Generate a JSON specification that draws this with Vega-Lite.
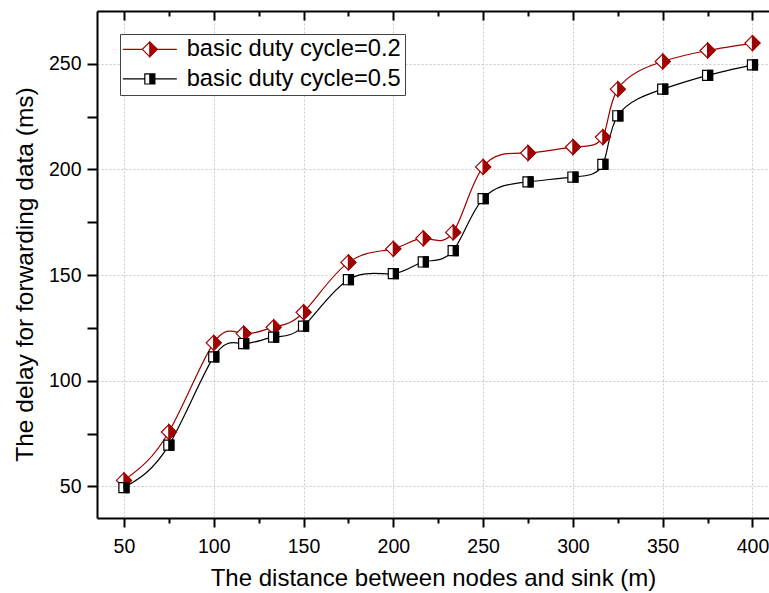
{
  "$schema": "https://vega.github.io/schema/vega-lite/v6.json",
  "width": 672,
  "height": 507,
  "autosize": {"type": "none"},
  "padding": {"left": 97, "top": 11, "right": 0, "bottom": 75},
  "background": "white",
  "config": {"view": {"stroke": null}, "font": "Liberation Sans"},
  "resolve": {"axis": {"x": "independent", "y": "independent"}},
  "data": {"values": [
    {"x": 50, "y": 52.8, "s": "basic duty cycle=0.2"},
    {"x": 75, "y": 75.7, "s": "basic duty cycle=0.2"},
    {"x": 100, "y": 117.9, "s": "basic duty cycle=0.2"},
    {"x": 116.67, "y": 122.3, "s": "basic duty cycle=0.2"},
    {"x": 133.33, "y": 125.3, "s": "basic duty cycle=0.2"},
    {"x": 150, "y": 132.4, "s": "basic duty cycle=0.2"},
    {"x": 175, "y": 156.0, "s": "basic duty cycle=0.2"},
    {"x": 200, "y": 162.4, "s": "basic duty cycle=0.2"},
    {"x": 216.67, "y": 167.4, "s": "basic duty cycle=0.2"},
    {"x": 233.33, "y": 170.2, "s": "basic duty cycle=0.2"},
    {"x": 250, "y": 201.2, "s": "basic duty cycle=0.2"},
    {"x": 275, "y": 207.8, "s": "basic duty cycle=0.2"},
    {"x": 300, "y": 210.6, "s": "basic duty cycle=0.2"},
    {"x": 316.67, "y": 215.3, "s": "basic duty cycle=0.2"},
    {"x": 325, "y": 238.0, "s": "basic duty cycle=0.2"},
    {"x": 350, "y": 251.1, "s": "basic duty cycle=0.2"},
    {"x": 375, "y": 256.3, "s": "basic duty cycle=0.2"},
    {"x": 400, "y": 259.8, "s": "basic duty cycle=0.2"},
    {"x": 50, "y": 49.4, "s": "basic duty cycle=0.5"},
    {"x": 75, "y": 69.5, "s": "basic duty cycle=0.5"},
    {"x": 100, "y": 111.3, "s": "basic duty cycle=0.5"},
    {"x": 116.67, "y": 117.6, "s": "basic duty cycle=0.5"},
    {"x": 133.33, "y": 120.6, "s": "basic duty cycle=0.5"},
    {"x": 150, "y": 125.8, "s": "basic duty cycle=0.5"},
    {"x": 175, "y": 147.8, "s": "basic duty cycle=0.5"},
    {"x": 200, "y": 150.7, "s": "basic duty cycle=0.5"},
    {"x": 216.67, "y": 156.2, "s": "basic duty cycle=0.5"},
    {"x": 233.33, "y": 161.6, "s": "basic duty cycle=0.5"},
    {"x": 250, "y": 186.2, "s": "basic duty cycle=0.5"},
    {"x": 275, "y": 194.1, "s": "basic duty cycle=0.5"},
    {"x": 300, "y": 196.4, "s": "basic duty cycle=0.5"},
    {"x": 316.67, "y": 202.4, "s": "basic duty cycle=0.5"},
    {"x": 325, "y": 225.4, "s": "basic duty cycle=0.5"},
    {"x": 350, "y": 238.0, "s": "basic duty cycle=0.5"},
    {"x": 375, "y": 244.5, "s": "basic duty cycle=0.5"},
    {"x": 400, "y": 249.5, "s": "basic duty cycle=0.5"}
  ]},
  "layer": [
    {
      "mark": {"type": "line", "interpolate": "natural", "strokeWidth": 1.2},
      "encoding": {
        "x": {"field": "x", "type": "quantitative",
          "scale": {"domain": [35, 409.2], "nice": false, "zero": false},
          "axis": {
            "orient": "bottom",
            "title": "The distance between nodes and sink (m)",
            "values": [50, 100, 150, 200, 250, 300, 350, 400],
            "tickSize": 9, "tickWidth": 2, "tickColor": "black",
            "domainColor": "black", "domainWidth": 2,
            "labelFont": "Liberation Sans", "labelFontSize": 19.5, "labelColor": "black", "labelPadding": 10,
            "labelFlush": false, "labelOverlap": false,
            "titleFont": "Liberation Sans", "titleFontSize": 24, "titleFontWeight": "normal", "titleColor": "black", "titlePadding": 11,
            "grid": true, "gridColor": "#c8c8c8", "gridDash": [2, 2], "gridWidth": 1
          }},
        "y": {"field": "y", "type": "quantitative",
          "scale": {"domain": [35, 275], "nice": false, "zero": false},
          "axis": {
            "orient": "left",
            "title": "The delay for forwarding data (ms)",
            "values": [50, 100, 150, 200, 250],
            "tickSize": 10, "tickWidth": 2, "tickColor": "black",
            "domainColor": "black", "domainWidth": 2,
            "labelFont": "Liberation Sans", "labelFontSize": 19.5, "labelColor": "black", "labelPadding": 6,
            "labelFlush": false, "labelOverlap": false,
            "titleFont": "Liberation Sans", "titleFontSize": 24.5, "titleFontWeight": "normal", "titleColor": "black",
            "titleX": -60, "titleY": 263, "titleAngle": -90, "titleAlign": "center", "titleBaseline": "bottom",
            "grid": true, "gridColor": "#c8c8c8", "gridDash": [2, 2], "gridWidth": 1
          }},
        "stroke": {"field": "s", "type": "nominal",
          "scale": {"domain": ["basic duty cycle=0.2", "basic duty cycle=0.5"], "range": ["#a00000", "#000000"]},
          "legend": {"title": null, "orient": "none", "legendX": 23, "legendY": 23, "padding": 3.5,
            "strokeColor": "#444444", "fillColor": "white", "cornerRadius": 0,
            "labelFont": "Liberation Sans", "labelFontSize": 23.7, "labelColor": "black", "labelLimit": 400,
            "symbolSize": 225, "symbolStrokeWidth": 1.2, "symbolOffset": 14.5, "labelOffset": 25, "rowPadding": 4.6}}
      }
    },
    {
      "transform": [{"filter": "datum.s == 'basic duty cycle=0.2'"}],
      "mark": {"type": "point", "shape": "M0,-1L1,0L0,1L-1,0Z", "size": 225, "filled": true, "fill": "white", "stroke": "#a00000", "strokeWidth": 1.2, "opacity": 1},
      "encoding": {
        "x": {"field": "x", "type": "quantitative",
          "axis": {"orient": "top", "title": null, "labels": false, "grid": false, "gridOpacity": 0,
            "values": [50, 100, 150, 200, 250, 300, 350, 400],
            "tickSize": -9, "tickWidth": 2, "tickColor": "black", "domainColor": "black", "domainWidth": 2}},
        "y": {"field": "y", "type": "quantitative",
          "axis": {"orient": "left", "title": null, "labels": false, "grid": false, "gridOpacity": 0, "domain": false,
            "values": [75, 125, 175, 225],
            "tickSize": 10, "tickWidth": 2, "tickColor": "black"}}
      }
    },
    {
      "transform": [{"filter": "datum.s == 'basic duty cycle=0.5'"}],
      "mark": {"type": "point", "shape": "M-0.67,-0.67L0.67,-0.67L0.67,0.67L-0.67,0.67Z", "size": 225, "filled": true, "fill": "white", "stroke": "#000000", "strokeWidth": 1.2, "opacity": 1},
      "encoding": {
        "x": {"field": "x", "type": "quantitative",
          "axis": {"orient": "top", "title": null, "labels": false, "grid": false, "gridOpacity": 0, "domain": false,
            "values": [75, 125, 175, 225, 275, 325, 375],
            "tickSize": -5, "tickWidth": 2, "tickColor": "black"}},
        "y": {"field": "y", "type": "quantitative", "axis": null}
      }
    },
    {
      "transform": [{"filter": "datum.s == 'basic duty cycle=0.2'"}],
      "mark": {"type": "point", "shape": "M0,-1L1,0L0,1Z", "size": 225, "filled": true, "fill": "#a00000", "stroke": "#a00000", "strokeWidth": 1.2, "opacity": 1},
      "encoding": {
        "x": {"field": "x", "type": "quantitative",
          "axis": {"orient": "bottom", "title": null, "labels": false, "grid": false, "gridOpacity": 0, "domain": false,
            "values": [75, 125, 175, 225, 275, 325, 375],
            "tickSize": 5, "tickWidth": 2, "tickColor": "black"}},
        "y": {"field": "y", "type": "quantitative", "axis": null}
      }
    },
    {
      "transform": [{"filter": "datum.s == 'basic duty cycle=0.5'"}],
      "mark": {"type": "point", "shape": "M0,-0.67L0.67,-0.67L0.67,0.67L0,0.67Z", "size": 225, "filled": true, "fill": "#000000", "stroke": "#000000", "strokeWidth": 1.2, "opacity": 1},
      "encoding": {
        "x": {"field": "x", "type": "quantitative", "axis": null},
        "y": {"field": "y", "type": "quantitative", "axis": null}
      }
    },
    {
      "transform": [{"filter": "datum.x < 0"}],
      "mark": {"type": "point", "size": 225, "filled": true, "strokeWidth": 1.2, "opacity": 1},
      "encoding": {
        "x": {"field": "x", "type": "quantitative", "axis": null},
        "y": {"field": "y", "type": "quantitative", "axis": null},
        "fill": {"field": "s", "type": "nominal",
          "scale": {"domain": ["basic duty cycle=0.2", "basic duty cycle=0.5"], "range": ["#a00000", "#000000"]},
          "legend": {"title": null, "orient": "none", "legendX": 23, "legendY": 23, "padding": 3.5,
            "strokeColor": "#444444", "fillColor": "white", "cornerRadius": 0,
            "labelFont": "Liberation Sans", "labelFontSize": 23.7, "labelColor": "black", "labelLimit": 400,
            "symbolSize": 225, "symbolStrokeWidth": 1.2, "symbolOffset": 14.5, "labelOffset": 25, "rowPadding": 4.6}},
        "stroke": {"field": "s", "type": "nominal",
          "legend": {"title": null, "orient": "none", "legendX": 23, "legendY": 23, "padding": 3.5,
            "strokeColor": "#444444", "fillColor": "white", "cornerRadius": 0,
            "labelFont": "Liberation Sans", "labelFontSize": 23.7, "labelColor": "black", "labelLimit": 400,
            "symbolSize": 225, "symbolStrokeWidth": 1.2, "symbolOffset": 14.5, "labelOffset": 25, "rowPadding": 4.6}},
        "shape": {"field": "s", "type": "nominal",
          "scale": {"domain": ["basic duty cycle=0.2", "basic duty cycle=0.5"],
            "range": ["M-3.6,0L-1,0M1,0L3.6,0M0,-1L-1,0L0,1L-1,0ZM0,-1L1,0L0,1Z",
                      "M-3.6,0L-0.67,0M0.67,0L3.6,0M0,-0.67L-0.67,-0.67L-0.67,0.67L0,0.67L-0.67,0.67L-0.67,-0.67ZM0,-0.67L0.67,-0.67L0.67,0.67L0,0.67Z"]},
          "legend": {"title": null, "orient": "none", "legendX": 23, "legendY": 23, "padding": 3.5,
            "strokeColor": "#444444", "fillColor": "white", "cornerRadius": 0,
            "labelFont": "Liberation Sans", "labelFontSize": 23.7, "labelColor": "black", "labelLimit": 400,
            "symbolSize": 225, "symbolStrokeWidth": 1.2, "symbolOffset": 14.5, "labelOffset": 25, "rowPadding": 4.6}}
      }
    }
  ]
}
